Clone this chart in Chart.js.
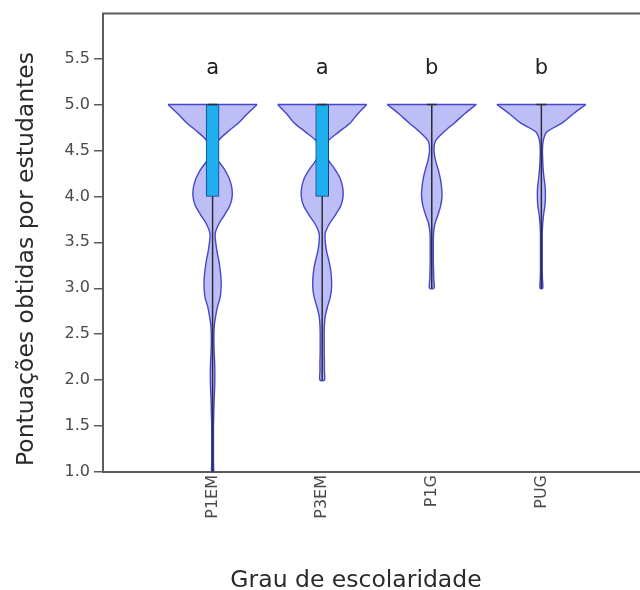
<!DOCTYPE html>
<html><head><meta charset="utf-8">
<script src="https://cdn.jsdelivr.net/npm/chart.js@4/dist/chart.umd.min.js"></script>
<style>html,body{margin:0;padding:0;background:#fff}canvas{display:block}</style>
</head><body>
<canvas id="c" width="640" height="590"></canvas>
<script>
// ---------- data ----------
const CATEGORIES = ['P1EM', 'P3EM', 'P1G', 'PUG'];
const SIG_LETTERS = ['a', 'a', 'b', 'b'];
const Y_TICK_VALUES = [1.0, 1.5, 2.0, 2.5, 3.0, 3.5, 4.0, 4.5, 5.0, 5.5];
const Y_TICK_LABELS = ['1.0', '1.5', '2.0', '2.5', '3.0', '3.5', '4.0', '4.5', '5.0', '5.5'];
const X_TITLE = 'Grau de escolaridade';
const Y_TITLE = 'Pontuações obtidas por estudantes';

// box-plot summaries per category
const MINS    = [1, 2, 3, 3];
const Q1S     = [4, 4, 5, 5];
const MEDIANS = [5, 5, 5, 5];
const Q3S     = [5, 5, 5, 5];
const MAXS    = [5, 5, 5, 5];

// relative kernel density (1 = widest) at scores 5.0, 4.9, 4.8 ... down to each group's minimum
const DENS_TOP = 5.0;
const DENS_STEP = 0.1;
const DENS_P1EM = [1.00, 0.78, 0.58, 0.33, 0.12, 0.06, 0.11, 0.26, 0.37, 0.43, 0.44, 0.39, 0.27, 0.14, 0.06, 0.07,
                   0.10, 0.14, 0.17, 0.19, 0.19, 0.17, 0.11, 0.07, 0.04, 0.03, 0.03, 0.035, 0.045, 0.05, 0.05,
                   0.045, 0.035, 0.03, 0.025, 0.02, 0.02, 0.02, 0.02, 0.02, 0.02];
const DENS_P3EM = [1.00, 0.80, 0.63, 0.37, 0.13, 0.07, 0.13, 0.28, 0.40, 0.46, 0.47, 0.42, 0.30, 0.16, 0.07, 0.07,
                   0.10, 0.15, 0.19, 0.21, 0.21, 0.18, 0.12, 0.07, 0.05, 0.045, 0.045, 0.045, 0.05, 0.05, 0.05];
const DENS_P1G  = [1.00, 0.74, 0.51, 0.27, 0.08, 0.05, 0.08, 0.14, 0.19, 0.22, 0.23, 0.20, 0.14, 0.07, 0.04, 0.035,
                   0.035, 0.035, 0.04, 0.045, 0.05];
const DENS_PUG  = [1.00, 0.72, 0.47, 0.12, 0.04, 0.025, 0.03, 0.04, 0.06, 0.085, 0.09, 0.08, 0.05, 0.03, 0.02, 0.02,
                   0.02, 0.02, 0.02, 0.025, 0.03];
const DENSITIES = [DENS_P1EM, DENS_P3EM, DENS_P1G, DENS_PUG];

// ---------- styles ----------
const VIOLIN_HALF = 0.406;     // half-width (x units) of the widest part
const CAP_HALF = 0.045;
const AXIS_COLOR = '#5c5c5c';
const VIOLIN_FILL = 'rgba(150,150,240,0.62)';
const VIOLIN_LINE = '#4646cc';
const WHISKER = '#2b2b3a';
const BOX_FILL = '#1eb0ee';
const BOX_LINE = '#1b3c86';
const LETTER_Y = 5.33;

// ---------- build datasets from data ----------
function violinPoints(i) {
  const d = DENSITIES[i], c = i + 1;
  const right = d.map((w, k) => ({x: c + w * VIOLIN_HALF, y: +(DENS_TOP - k * DENS_STEP).toFixed(2)}));
  const left = d.map((w, k) => ({x: c - w * VIOLIN_HALF, y: +(DENS_TOP - k * DENS_STEP).toFixed(2)})).reverse();
  return right.concat(left);   // open outline; the fill closes it along the flat top
}
const violinSets = CATEGORIES.map((name, i) => ({
  type: 'line', label: name, data: violinPoints(i), order: 5,
  borderColor: VIOLIN_LINE, borderWidth: 1.4, backgroundColor: VIOLIN_FILL,
  fill: 'shape', pointRadius: 0, tension: 0.3
}));
// flat tops of the violins (cut at the maximum score)
const lidData = [];
CATEGORIES.forEach((_, i) => {
  const w = DENSITIES[i][0] * VIOLIN_HALF;
  lidData.push({x: i + 1 - w, y: DENS_TOP}, {x: i + 1 + w, y: DENS_TOP}, {x: i + 1.5, y: null});
});
const whiskerData = [];
CATEGORIES.forEach((_, i) => {
  whiskerData.push({x: i + 1, y: MINS[i]}, {x: i + 1, y: MAXS[i]}, {x: i + 1.5, y: null});
});
const capData = [];
CATEGORIES.forEach((_, i) => {
  capData.push({x: i + 1 - CAP_HALF, y: MEDIANS[i]}, {x: i + 1 + CAP_HALF, y: MEDIANS[i]}, {x: i + 1.5, y: null});
});
const boxData = CATEGORIES.map((_, i) => ({x: i + 1, y: [Q1S[i], Q3S[i]]}));

const decor = {
  id: 'decor',
  afterDraw(chart) {
    const {ctx, chartArea: a, scales: {x, y}} = chart;
    ctx.save();
    ctx.strokeStyle = AXIS_COLOR; ctx.lineWidth = 2;
    ctx.beginPath(); ctx.moveTo(a.left - 1, a.top); ctx.lineTo(a.right, a.top); ctx.stroke();
    ctx.fillStyle = '#222';
    ctx.font = '21px "DejaVu Sans"';
    ctx.textAlign = 'center'; ctx.textBaseline = 'alphabetic';
    SIG_LETTERS.forEach((t, i) => ctx.fillText(t, x.getPixelForValue(i + 1), y.getPixelForValue(LETTER_Y)));
    ctx.fillStyle = '#2a2a2a';
    ctx.font = '23.5px "DejaVu Sans"';
    ctx.fillText(X_TITLE, 356, 587);
    ctx.translate(33, 259); ctx.rotate(-Math.PI / 2);
    ctx.fillText(Y_TITLE, 0, 0);
    ctx.restore();
  }
};

new Chart(document.getElementById('c'), {
  type: 'line',
  data: {
    datasets: [
      {type: 'line', label: 'median', data: capData, order: 1, borderColor: WHISKER, borderWidth: 1.5,
       pointRadius: 0, fill: false, spanGaps: false, tension: 0},
      {type: 'bar', label: 'box', data: boxData, order: 2, backgroundColor: BOX_FILL, borderColor: BOX_LINE,
       borderWidth: 1, borderSkipped: false, barThickness: 13},
      {type: 'line', label: 'range', data: whiskerData, order: 3, borderColor: WHISKER, borderWidth: 1.5,
       pointRadius: 0, fill: false, spanGaps: false, tension: 0},
      {type: 'line', label: 'tops', data: lidData, order: 4, borderColor: VIOLIN_LINE, borderWidth: 1.4,
       pointRadius: 0, fill: false, spanGaps: false, tension: 0},
      ...violinSets
    ]
  },
  options: {
    responsive: false, animation: false, events: [],
    layout: {padding: {top: 12, right: 0, bottom: 0, left: 0}},
    plugins: {legend: {display: false}, tooltip: {enabled: false}},
    scales: {
      x: {
        type: 'linear', min: 0, max: 4.9, offset: false,
        grid: {display: false, drawTicks: false, offset: false},
        border: {display: true, color: AXIS_COLOR, width: 2},
        afterBuildTicks: s => { s.ticks = CATEGORIES.map((_, i) => ({value: i + 1})); },
        afterFit: s => { s.height = 118; },
        ticks: {
          callback: v => CATEGORIES[Math.round(v) - 1],
          minRotation: 90, maxRotation: 90, padding: 3, autoSkip: false,
          color: '#4a4a4a', font: {family: 'DejaVu Sans', size: 16}
        },
        title: {display: false}
      },
      y: {
        type: 'linear', min: 1, max: 5.99,
        grid: {display: true, drawOnChartArea: false, drawTicks: true, tickLength: 9, color: AXIS_COLOR, lineWidth: 1.5},
        border: {display: true, color: AXIS_COLOR, width: 2},
        afterBuildTicks: s => { s.ticks = Y_TICK_VALUES.map(v => ({value: v})); },
        afterFit: s => { s.width = 103; },
        ticks: {
          callback: (v) => Y_TICK_LABELS[Y_TICK_VALUES.indexOf(v)],
          padding: 4, color: '#4a4a4a', font: {family: 'DejaVu Sans', size: 16}
        },
        title: {display: false}
      }
    }
  },
  plugins: [decor]
});
</script>
</body></html>
